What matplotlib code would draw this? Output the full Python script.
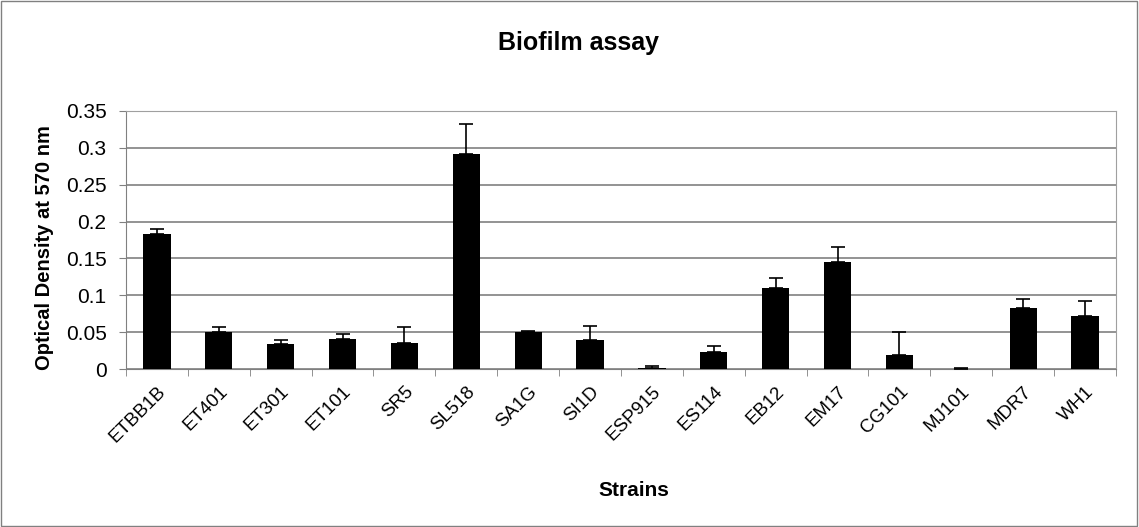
import matplotlib.pyplot as plt
from matplotlib.patches import Rectangle
from matplotlib.transforms import ScaledTranslation
import numpy as np

plt.rcParams['font.family'] = ['Liberation Sans', 'DejaVu Sans']

# Biofilm assay data (OD570)
strains = ['ETBB1B', 'ET401', 'ET301', 'ET101', 'SR5', 'SL518', 'SA1G', 'SI1D',
           'ESP915', 'ES114', 'EB12', 'EM17', 'CG101', 'MJ101', 'MDR7', 'WH1']
od570 = [0.183, 0.050, 0.034, 0.041, 0.035, 0.292, 0.050, 0.039,
         0.001, 0.023, 0.110, 0.145, 0.019, 0.000, 0.083, 0.072]
err = [0.007, 0.007, 0.005, 0.006, 0.022, 0.040, 0.002, 0.020,
       0.003, 0.008, 0.014, 0.020, 0.031, 0.002, 0.012, 0.020]
yticks = [0, 0.05, 0.1, 0.15, 0.2, 0.25, 0.3, 0.35]

fig = plt.figure(figsize=(11.39, 5.27), dpi=100)
ax = fig.add_axes([0.1106, 0.2998, 0.8692, 0.4896])

x = np.arange(len(strains))
ax.bar(x, od570, width=0.44, color='black', zorder=3)
# only the upper half of the error bar is shown
ax.errorbar(x, od570, yerr=[np.zeros(len(err)), err], fmt='none',
            ecolor='black', elinewidth=1.2, capsize=5, capthick=1.2, zorder=4)

ax.set_xlim(-0.5, len(strains) - 0.5)
ax.set_ylim(0, 0.35)
ax.set_yticks(yticks)
ax.set_yticklabels([f'{t:g}' for t in yticks], fontsize=15)
ax.yaxis.grid(True, color='#808080', linewidth=1.2, zorder=0)

ax.set_xticks(x)
ax.set_xticklabels(strains, rotation=45, ha='right', rotation_mode='anchor', fontsize=13.5)
shift = ScaledTranslation(-0.18, -0.12, fig.dpi_scale_trans)
for lab in ax.get_xticklabels():
    lab.set_transform(lab.get_transform() + shift)
ax.set_xticks(np.arange(len(strains) + 1) - 0.5, minor=True)
ax.tick_params(axis='x', which='major', length=0, pad=10)
ax.tick_params(axis='x', which='minor', length=5, direction='out', color='#808080')
ax.tick_params(axis='y', length=5, direction='out', color='#808080', pad=9)

for side in ['top', 'right']:
    ax.spines[side].set_color('#a0a0a0')
ax.spines['left'].set_color('#808080')
ax.spines['bottom'].set_color('#808080')

ax.set_ylabel('Optical Density at 570 nm', fontsize=14.5, fontweight='bold')
ax.yaxis.set_label_coords(-0.073, 0.47)
ax.set_xlabel('Strains', fontsize=15, fontweight='bold')
ax.xaxis.set_label_coords(0.513, -0.435)
fig.text(0.508, 0.918, 'Biofilm assay', ha='center', va='center',
         fontsize=18, fontweight='bold')

# outer chart border
fig.patches.append(Rectangle((0.001, 0.002), 0.997, 0.996, transform=fig.transFigure,
                             fill=False, edgecolor='#808080', linewidth=1))

fig.savefig('out.png', dpi=100)
